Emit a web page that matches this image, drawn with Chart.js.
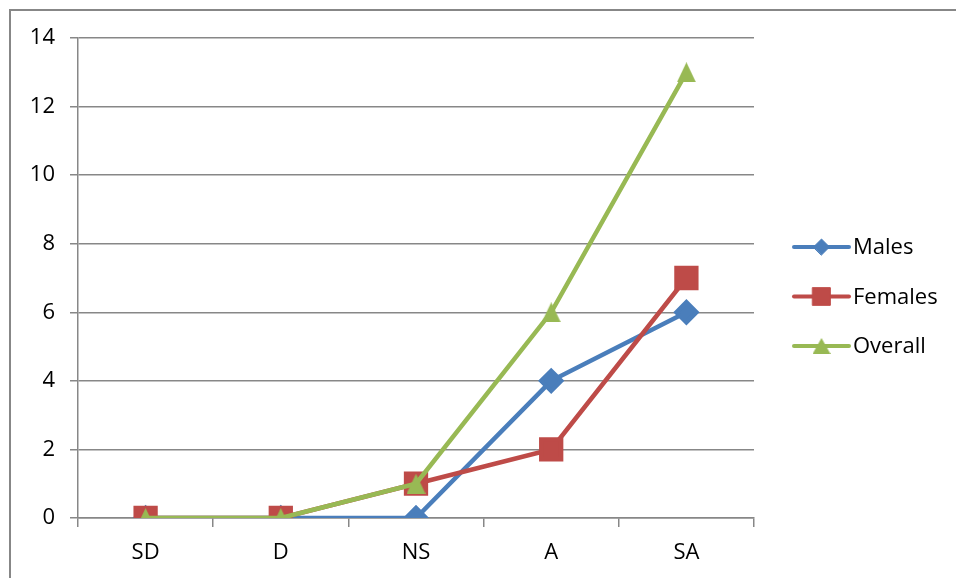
<!DOCTYPE html>
<html>
<head>
<meta charset="utf-8">
<script src="https://cdn.jsdelivr.net/npm/chart.js@4/dist/chart.umd.min.js"></script>
<style>
  html, body { margin: 0; padding: 0; background: #fff; }
  #wrap { position: relative; width: 956px; height: 578px; }
</style>
</head>
<body>
<div id="wrap"><canvas id="myChart" width="956" height="578"></canvas></div>
<script>
  /** answer scale */
  var categories = ["SD", "D", "NS", "A", "SA"];
  var seriesNames = ["Males", "Females", "Overall"];
  var malesData = [0, 0, 0, 4, 6];
  var femalesData = [0, 0, 1, 2, 7];
  var overallData = [0, 0, 1, 6, 13];
  var yTicks = [0, 2, 4, 6, 8, 10, 12, 14];

  var seriesColors = ["#4a7ebb", "#be4b48", "#98b954"];

  const axisGray = "#878787";
  const textFont = { family: "'Open Sans'", size: 22 };

  // triangle marker centred on its bounding box
  function makeTriangle(w, h, color) {
    const cv = document.createElement("canvas");
    cv.width = w;
    cv.height = h;
    const c = cv.getContext("2d");
    c.fillStyle = color;
    c.beginPath();
    c.moveTo(w / 2, 0);
    c.lineTo(w, h);
    c.lineTo(0, h);
    c.closePath();
    c.fill();
    return cv;
  }

  var seriesStyles = ["rectRot", "rect", makeTriangle(19, 20, seriesColors[2])];
  var seriesRadius = [10, 14, 10];
  var legendStyles = ["rectRot", "rect", makeTriangle(18, 16, seriesColors[2])];
  var legendRadius = [8, 12.5, 9];

  // outer frame of the chart box
  const framePlugin = {
    id: "frame",
    beforeDraw(chart) {
      const c = chart.ctx;
      c.save();
      c.strokeStyle = axisGray;
      c.lineWidth = 2;
      c.strokeRect(10, 10, 1200, 1200);
      c.restore();
    },
  };

  // legend with a short line and the marker on top of it
  const lineLegend = {
    id: "lineLegend",
    afterDraw(chart) {
      const c = chart.ctx;
      const x0 = chart.chartArea.right + 40;
      c.save();
      chart.data.datasets.forEach((ds, i) => {
        const y = 247 + i * 49.5;
        c.strokeStyle = ds.borderColor;
        c.fillStyle = ds.borderColor;
        c.lineWidth = 4;
        c.lineCap = "round";
        c.beginPath();
        c.moveTo(x0, y);
        c.lineTo(x0 + 55, y);
        c.stroke();
        c.lineWidth = 1;
        Chart.helpers.drawPoint(c, {
          pointStyle: legendStyles[i],
          radius: legendRadius[i],
          rotation: 0,
          borderWidth: 1,
        }, x0 + 27.5, y);
        c.fillStyle = "#000";
        c.font = "22px 'Open Sans'";
        c.textBaseline = "middle";
        c.textAlign = "left";
        c.fillText(ds.label, x0 + 59, y + 1);
      });
      c.restore();
    },
  };

  var dataLists = [malesData, femalesData, overallData];
  var datasets = dataLists.map((list, i) => {
    return {
      label: seriesNames[i],
      data: list,
      borderColor: seriesColors[i],
      backgroundColor: seriesColors[i],
      pointBackgroundColor: seriesColors[i],
      pointBorderColor: seriesColors[i],
      pointStyle: seriesStyles[i],
      pointRadius: seriesRadius[i],
      pointHoverRadius: seriesRadius[i],
      borderWidth: 4.5,
      tension: 0,
      // later series sit on top
      order: 3 - i,
    };
  });

  const ctx = document.getElementById("myChart");
  new Chart(ctx, {
    type: "line",
    data: { labels: categories, datasets: datasets },
    options: {
      responsive: false,
      animation: false,
      layout: { padding: { left: 0, top: 38, right: 202, bottom: 0 } },
      plugins: {
        legend: { display: false },
        tooltip: { enabled: false },
      },
      scales: {
        x: {
          offset: true,
          grid: {
            offset: true,
            drawOnChartArea: false,
            drawTicks: true,
            tickLength: 9,
            color: axisGray,
            lineWidth: 1.5,
          },
          border: { color: axisGray, width: 1.5 },
          ticks: { color: "#000", font: textFont, padding: 13 },
          afterFit(scale) {
            scale.height = 60;
          },
        },
        y: {
          min: 0,
          max: 14,
          afterBuildTicks(scale) {
            scale.ticks = yTicks.map((v) => ({ value: v }));
          },
          grid: {
            color: axisGray,
            lineWidth: 1.5,
            tickLength: 8,
          },
          border: { color: axisGray, width: 1.5 },
          ticks: { color: "#000", font: textFont, padding: 15 },
          afterFit(scale) {
            scale.width = 78;
          },
        },
      },
    },
    plugins: [framePlugin, lineLegend],
  });
</script>
</body>
</html>
